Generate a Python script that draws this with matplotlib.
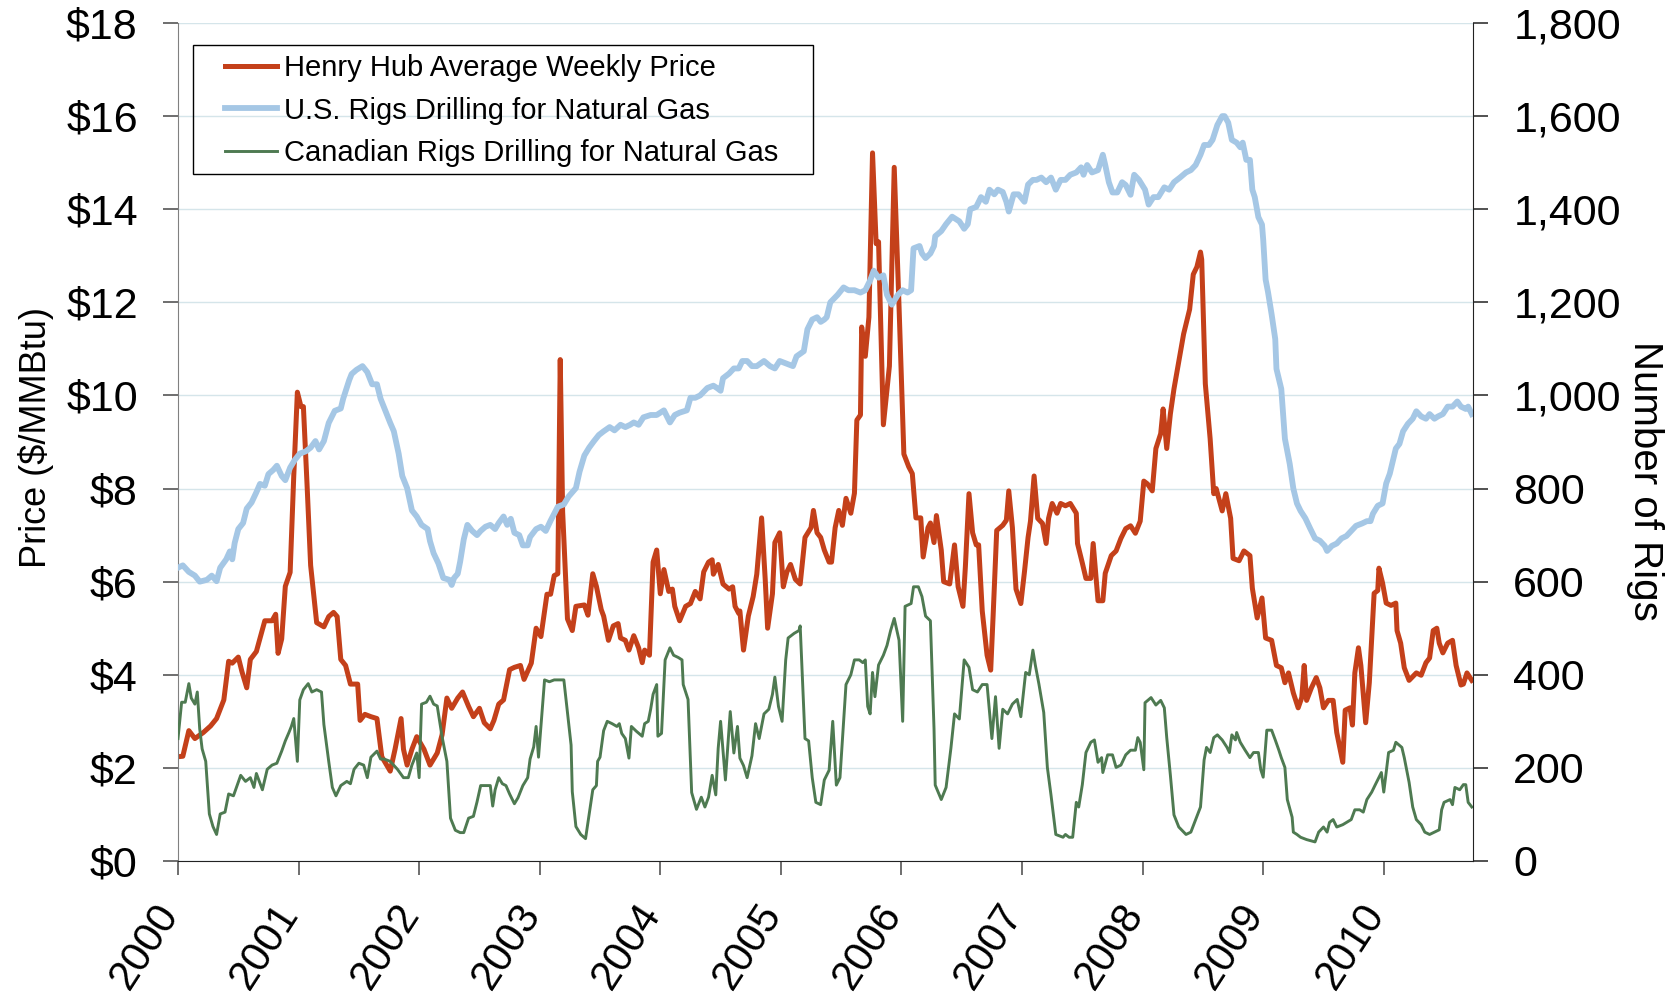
import matplotlib
matplotlib.use("Agg")
import matplotlib.pyplot as plt
from matplotlib.patches import Rectangle
from matplotlib.transforms import ScaledTranslation
from matplotlib.ticker import FuncFormatter

plt.rcParams['font.family'] = ['Liberation Sans', 'DejaVu Sans']

# Henry Hub average weekly price ($/MMBtu), x in decimal years
hh_year = [
    2000.00, 2000.04, 2000.09, 2000.14, 2000.21, 2000.27, 2000.32, 2000.38, 2000.42, 2000.45,
    2000.50, 2000.53, 2000.57, 2000.60, 2000.65, 2000.72, 2000.78, 2000.81, 2000.83, 2000.86,
    2000.89, 2000.93, 2000.96, 2000.99, 2001.02, 2001.04, 2001.07, 2001.10, 2001.15, 2001.21,
    2001.25, 2001.29, 2001.32, 2001.35, 2001.39, 2001.43, 2001.49, 2001.51, 2001.55, 2001.60,
    2001.65, 2001.69, 2001.76, 2001.80, 2001.85, 2001.87, 2001.90, 2001.94, 2001.98, 2002.04,
    2002.09, 2002.15, 2002.19, 2002.23, 2002.27, 2002.32, 2002.36, 2002.41, 2002.45, 2002.50,
    2002.54, 2002.59, 2002.62, 2002.66, 2002.70, 2002.75, 2002.79, 2002.84, 2002.87, 2002.93,
    2002.97, 2003.01, 2003.06, 2003.09, 2003.12, 2003.15, 2003.17, 2003.19, 2003.23, 2003.27,
    2003.30, 2003.37, 2003.40, 2003.44, 2003.47, 2003.51, 2003.53, 2003.57, 2003.61, 2003.65,
    2003.67, 2003.71, 2003.74, 2003.78, 2003.82, 2003.85, 2003.87, 2003.91, 2003.94, 2003.97,
    2004.00, 2004.03, 2004.07, 2004.10, 2004.12, 2004.16, 2004.21, 2004.25, 2004.29, 2004.33,
    2004.36, 2004.40, 2004.43, 2004.44, 2004.48, 2004.52, 2004.57, 2004.60, 2004.62, 2004.65,
    2004.66, 2004.69, 2004.73, 2004.77, 2004.80, 2004.84, 2004.87, 2004.89, 2004.93, 2004.95,
    2004.99, 2005.02, 2005.05, 2005.08, 2005.12, 2005.16, 2005.20, 2005.25, 2005.27, 2005.30,
    2005.33, 2005.36, 2005.40, 2005.42, 2005.45, 2005.48, 2005.51, 2005.54, 2005.58, 2005.61,
    2005.63, 2005.66, 2005.67, 2005.70, 2005.73, 2005.76, 2005.79, 2005.81, 2005.85, 2005.90,
    2005.94, 2005.98, 2006.02, 2006.06, 2006.09, 2006.12, 2006.16, 2006.18, 2006.22, 2006.24,
    2006.27, 2006.29, 2006.33, 2006.35, 2006.40, 2006.44, 2006.47, 2006.51, 2006.53, 2006.56,
    2006.59, 2006.62, 2006.64, 2006.67, 2006.71, 2006.74, 2006.76, 2006.79, 2006.84, 2006.87,
    2006.89, 2006.92, 2006.95, 2006.99, 2007.02, 2007.05, 2007.07, 2007.10, 2007.13, 2007.17,
    2007.20, 2007.22, 2007.25, 2007.29, 2007.32, 2007.36, 2007.40, 2007.45, 2007.46, 2007.50,
    2007.53, 2007.57, 2007.59, 2007.63, 2007.67, 2007.69, 2007.74, 2007.78, 2007.82, 2007.86,
    2007.90, 2007.94, 2007.98, 2008.01, 2008.04, 2008.08, 2008.11, 2008.15, 2008.17, 2008.20,
    2008.23, 2008.26, 2008.30, 2008.34, 2008.37, 2008.39, 2008.42, 2008.45, 2008.48, 2008.49,
    2008.52, 2008.56, 2008.59, 2008.61, 2008.66, 2008.69, 2008.73, 2008.75, 2008.80, 2008.84,
    2008.89, 2008.91, 2008.95, 2008.99, 2009.02, 2009.07, 2009.11, 2009.15, 2009.18, 2009.21,
    2009.25, 2009.29, 2009.32, 2009.34, 2009.36, 2009.40, 2009.44, 2009.47, 2009.50, 2009.54,
    2009.58, 2009.61, 2009.66, 2009.68, 2009.72, 2009.74, 2009.76, 2009.79, 2009.81, 2009.85,
    2009.88, 2009.92, 2009.95, 2009.96, 2009.99, 2010.02, 2010.06, 2010.10, 2010.11, 2010.14,
    2010.17, 2010.21, 2010.27, 2010.31, 2010.35, 2010.38, 2010.41, 2010.44, 2010.46, 2010.49,
    2010.53, 2010.57, 2010.60, 2010.64, 2010.66, 2010.69, 2010.73,
]
hh_price = [
    2.24, 2.25, 2.80, 2.63, 2.76, 2.90, 3.06, 3.46, 4.29, 4.25,
    4.38, 4.07, 3.72, 4.33, 4.50, 5.16, 5.16, 5.30, 4.46, 4.77,
    5.90, 6.20, 8.27, 10.07, 9.76, 9.76, 8.10, 6.35, 5.12, 5.03,
    5.25, 5.34, 5.25, 4.33, 4.20, 3.80, 3.80, 3.02, 3.15, 3.10,
    3.06, 2.24, 1.93, 2.40, 3.06, 2.40, 2.06, 2.40, 2.67, 2.40,
    2.06, 2.32, 2.71, 3.50, 3.28, 3.50, 3.63, 3.32, 3.10, 3.28,
    2.97, 2.84, 3.02, 3.37, 3.46, 4.11, 4.16, 4.20, 3.90, 4.25,
    5.00, 4.82, 5.73, 5.73, 6.13, 6.17, 10.77, 7.50, 5.20, 4.95,
    5.47, 5.50, 5.28, 6.17, 5.90, 5.40, 5.26, 4.74, 5.05, 5.10,
    4.79, 4.74, 4.53, 4.84, 4.58, 4.26, 4.53, 4.42, 6.42, 6.68,
    5.74, 6.26, 5.79, 5.84, 5.47, 5.16, 5.47, 5.53, 5.79, 5.63,
    6.21, 6.42, 6.47, 6.16, 6.37, 5.95, 5.84, 5.89, 5.47, 5.32,
    5.37, 4.53, 5.26, 5.68, 6.16, 7.37, 6.05, 5.00, 5.74, 6.84,
    7.05, 5.89, 6.21, 6.37, 6.05, 5.95, 6.95, 7.16, 7.53, 7.05,
    6.95, 6.68, 6.42, 6.42, 7.16, 7.53, 7.21, 7.79, 7.47, 7.90,
    9.47, 9.58, 11.47, 10.84, 11.68, 15.21, 13.26, 13.30, 9.37, 10.63,
    14.90, 11.90, 8.74, 8.47, 8.32, 7.37, 7.37, 6.53, 7.16, 7.26,
    6.84, 7.42, 6.68, 6.00, 5.95, 6.79, 5.89, 5.47, 6.32, 7.89,
    7.05, 6.79, 6.79, 5.37, 4.42, 4.10, 5.26, 7.10, 7.21, 7.32,
    7.95, 7.16, 5.84, 5.53, 6.21, 6.95, 7.30, 8.27, 7.36, 7.25,
    6.82, 7.36, 7.68, 7.47, 7.68, 7.63, 7.68, 7.47, 6.82, 6.40,
    6.07, 6.07, 6.82, 5.59, 5.59, 6.18, 6.56, 6.66, 6.93, 7.14,
    7.20, 7.04, 7.30, 8.16, 8.10, 7.95, 8.86, 9.18, 9.71, 8.86,
    9.60, 10.14, 10.73, 11.32, 11.64, 11.85, 12.60, 12.76, 13.08, 12.92,
    10.25, 9.07, 7.89, 8.00, 7.52, 7.89, 7.36, 6.50, 6.45, 6.66,
    6.56, 5.86, 5.22, 5.65, 4.79, 4.74, 4.20, 4.15, 3.83, 4.04,
    3.61, 3.29, 3.51, 4.20, 3.45, 3.72, 3.94, 3.72, 3.29, 3.45,
    3.45, 2.76, 2.12, 3.24, 3.29, 2.92, 4.04, 4.58, 4.20, 2.97,
    3.83, 5.75, 5.81, 6.29, 5.97, 5.54, 5.49, 5.54, 4.95, 4.68,
    4.15, 3.88, 4.04, 3.99, 4.26, 4.36, 4.95, 5.00, 4.68, 4.47,
    4.68, 4.74, 4.20, 3.78, 3.80, 4.04, 3.88,
]

# U.S. rigs drilling for natural gas
us_year = [
    2000.00, 2000.04, 2000.09, 2000.14, 2000.18, 2000.24, 2000.28, 2000.32, 2000.35, 2000.40,
    2000.43, 2000.45, 2000.47, 2000.50, 2000.54, 2000.57, 2000.61, 2000.65, 2000.68, 2000.72,
    2000.75, 2000.79, 2000.82, 2000.86, 2000.89, 2000.93, 2000.97, 2001.01, 2001.06, 2001.10,
    2001.14, 2001.17, 2001.21, 2001.25, 2001.30, 2001.35, 2001.37, 2001.42, 2001.44, 2001.48,
    2001.53, 2001.57, 2001.61, 2001.65, 2001.68, 2001.72, 2001.76, 2001.79, 2001.83, 2001.86,
    2001.90, 2001.94, 2001.98, 2002.02, 2002.07, 2002.09, 2002.12, 2002.16, 2002.20, 2002.25,
    2002.27, 2002.29, 2002.32, 2002.34, 2002.37, 2002.40, 2002.44, 2002.48, 2002.51, 2002.55,
    2002.59, 2002.63, 2002.66, 2002.70, 2002.73, 2002.76, 2002.79, 2002.83, 2002.86, 2002.90,
    2002.92, 2002.97, 2003.01, 2003.05, 2003.09, 2003.15, 2003.20, 2003.24, 2003.30, 2003.33,
    2003.37, 2003.41, 2003.45, 2003.49, 2003.53, 2003.58, 2003.62, 2003.67, 2003.71, 2003.75,
    2003.78, 2003.82, 2003.86, 2003.92, 2003.97, 2004.03, 2004.08, 2004.12, 2004.16, 2004.22,
    2004.25, 2004.29, 2004.33, 2004.39, 2004.44, 2004.47, 2004.50, 2004.52, 2004.57, 2004.61,
    2004.65, 2004.68, 2004.72, 2004.76, 2004.80, 2004.86, 2004.91, 2004.95, 2004.99, 2005.05,
    2005.10, 2005.13, 2005.19, 2005.22, 2005.26, 2005.30, 2005.33, 2005.36, 2005.38, 2005.41,
    2005.47, 2005.52, 2005.56, 2005.61, 2005.66, 2005.70, 2005.74, 2005.77, 2005.81, 2005.85,
    2005.88, 2005.92, 2005.97, 2006.01, 2006.05, 2006.08, 2006.10, 2006.15, 2006.17, 2006.20,
    2006.24, 2006.27, 2006.28, 2006.33, 2006.37, 2006.42, 2006.48, 2006.52, 2006.55, 2006.57,
    2006.62, 2006.66, 2006.70, 2006.73, 2006.77, 2006.80, 2006.84, 2006.87, 2006.89, 2006.93,
    2006.97, 2007.02, 2007.05, 2007.09, 2007.12, 2007.16, 2007.20, 2007.24, 2007.28, 2007.32,
    2007.36, 2007.40, 2007.45, 2007.49, 2007.51, 2007.54, 2007.58, 2007.63, 2007.67, 2007.69,
    2007.72, 2007.75, 2007.79, 2007.83, 2007.86, 2007.90, 2007.93, 2007.97, 2008.02, 2008.05,
    2008.09, 2008.13, 2008.18, 2008.22, 2008.26, 2008.31, 2008.36, 2008.40, 2008.44, 2008.48,
    2008.51, 2008.55, 2008.58, 2008.62, 2008.66, 2008.68, 2008.71, 2008.74, 2008.78, 2008.81,
    2008.83, 2008.86, 2008.89, 2008.91, 2008.93, 2008.96, 2008.99, 2009.00, 2009.02, 2009.04,
    2009.07, 2009.10, 2009.11, 2009.15, 2009.18, 2009.22, 2009.25, 2009.28, 2009.31, 2009.35,
    2009.39, 2009.43, 2009.47, 2009.51, 2009.53, 2009.57, 2009.61, 2009.65, 2009.69, 2009.73,
    2009.77, 2009.82, 2009.86, 2009.89, 2009.91, 2009.95, 2009.99, 2010.02, 2010.05, 2010.08,
    2010.10, 2010.13, 2010.16, 2010.20, 2010.24, 2010.27, 2010.31, 2010.35, 2010.38, 2010.42,
    2010.45, 2010.49, 2010.53, 2010.57, 2010.61, 2010.64, 2010.68, 2010.70, 2010.73,
]
us_rigs = [
    630, 635, 621, 613, 600, 604, 613, 601, 630, 648,
    665, 648, 683, 713, 726, 757, 770, 792, 810, 806,
    831, 840, 849, 827, 818, 845, 862, 875, 880, 888,
    902, 884, 902, 941, 967, 972, 993, 1033, 1046, 1055,
    1063, 1050, 1024, 1024, 993, 967, 941, 923, 875, 827,
    801, 753, 740, 722, 713, 687, 661, 639, 608, 604,
    593, 608, 617, 643, 691, 722, 709, 700, 709, 718,
    722, 713, 726, 740, 722, 735, 705, 700, 678, 678,
    696, 713, 718, 709, 731, 761, 766, 783, 801, 836,
    871, 888, 902, 915, 923, 932, 925, 937, 932, 937,
    942, 937, 953, 958, 958, 968, 942, 958, 963, 968,
    995, 995, 1000, 1016, 1021, 1016, 1010, 1037, 1047, 1058,
    1058, 1074, 1074, 1063, 1063, 1074, 1063, 1058, 1074, 1068,
    1063, 1084, 1095, 1142, 1163, 1168, 1158, 1163, 1168, 1200,
    1216, 1232, 1226, 1226, 1221, 1226, 1247, 1268, 1253, 1258,
    1216, 1195, 1216, 1226, 1221, 1226, 1316, 1321, 1305, 1295,
    1305, 1321, 1342, 1353, 1368, 1384, 1374, 1358, 1368, 1400,
    1405, 1426, 1416, 1442, 1432, 1442, 1437, 1416, 1395, 1432,
    1432, 1416, 1453, 1463, 1463, 1468, 1458, 1468, 1442, 1463,
    1463, 1474, 1479, 1490, 1474, 1495, 1479, 1484, 1517, 1495,
    1458, 1436, 1436, 1458, 1452, 1431, 1474, 1463, 1442, 1410,
    1426, 1426, 1447, 1442, 1458, 1468, 1479, 1484, 1495, 1517,
    1538, 1538, 1549, 1581, 1600, 1600, 1586, 1549, 1543, 1533,
    1543, 1506, 1506, 1442, 1426, 1383, 1367, 1335, 1249, 1222,
    1174, 1121, 1057, 1014, 907, 853, 800, 768, 752, 736,
    714, 693, 688, 677, 666, 677, 682, 693, 698, 709,
    720, 725, 730, 730, 746, 763, 768, 811, 832, 864,
    886, 896, 923, 939, 950, 966, 955, 950, 960, 950,
    955, 960, 976, 976, 987, 976, 971, 976, 960,
]

# Canadian rigs drilling for natural gas
ca_year = [
    2000.00, 2000.03, 2000.06, 2000.09, 2000.11, 2000.14, 2000.16, 2000.18, 2000.20, 2000.23,
    2000.26, 2000.29, 2000.32, 2000.35, 2000.39, 2000.42, 2000.46, 2000.52, 2000.56, 2000.60,
    2000.63, 2000.65, 2000.70, 2000.74, 2000.78, 2000.82, 2000.86, 2000.89, 2000.92, 2000.94,
    2000.96, 2000.99, 2001.01, 2001.04, 2001.08, 2001.11, 2001.15, 2001.19, 2001.21, 2001.25,
    2001.28, 2001.31, 2001.35, 2001.40, 2001.43, 2001.46, 2001.50, 2001.54, 2001.57, 2001.60,
    2001.65, 2001.68, 2001.71, 2001.76, 2001.82, 2001.87, 2001.91, 2001.94, 2001.98, 2002.00,
    2002.02, 2002.06, 2002.09, 2002.12, 2002.15, 2002.19, 2002.23, 2002.26, 2002.30, 2002.34,
    2002.37, 2002.41, 2002.45, 2002.48, 2002.51, 2002.55, 2002.59, 2002.61, 2002.63, 2002.66,
    2002.69, 2002.72, 2002.75, 2002.79, 2002.82, 2002.86, 2002.90, 2002.92, 2002.95, 2002.97,
    2002.99, 2003.04, 2003.08, 2003.12, 2003.16, 2003.20, 2003.23, 2003.26, 2003.27, 2003.30,
    2003.34, 2003.38, 2003.41, 2003.44, 2003.47, 2003.48, 2003.50, 2003.53, 2003.56, 2003.60,
    2003.64, 2003.66, 2003.68, 2003.71, 2003.74, 2003.76, 2003.80, 2003.85, 2003.87, 2003.90,
    2003.92, 2003.94, 2003.97, 2003.98, 2004.01, 2004.04, 2004.08, 2004.11, 2004.15, 2004.18,
    2004.19, 2004.23, 2004.26, 2004.30, 2004.34, 2004.37, 2004.40, 2004.43, 2004.46, 2004.48,
    2004.50, 2004.54, 2004.58, 2004.61, 2004.64, 2004.66, 2004.69, 2004.72, 2004.76, 2004.79,
    2004.82, 2004.86, 2004.90, 2004.93, 2004.95, 2004.98, 2005.01, 2005.04, 2005.06, 2005.11,
    2005.15, 2005.16, 2005.20, 2005.23, 2005.26, 2005.29, 2005.33, 2005.36, 2005.40, 2005.43,
    2005.46, 2005.49, 2005.54, 2005.58, 2005.61, 2005.65, 2005.68, 2005.70, 2005.72, 2005.74,
    2005.76, 2005.78, 2005.81, 2005.85, 2005.88, 2005.91, 2005.94, 2005.98, 2006.01, 2006.03,
    2006.08, 2006.10, 2006.14, 2006.17, 2006.20, 2006.24, 2006.27, 2006.28, 2006.33, 2006.37,
    2006.41, 2006.44, 2006.48, 2006.52, 2006.56, 2006.59, 2006.63, 2006.67, 2006.71, 2006.75,
    2006.78, 2006.81, 2006.84, 2006.88, 2006.92, 2006.96, 2006.99, 2007.03, 2007.06, 2007.09,
    2007.11, 2007.14, 2007.18, 2007.21, 2007.24, 2007.28, 2007.34, 2007.36, 2007.39, 2007.42,
    2007.45, 2007.47, 2007.50, 2007.53, 2007.57, 2007.60, 2007.63, 2007.66, 2007.67, 2007.71,
    2007.75, 2007.78, 2007.82, 2007.86, 2007.90, 2007.94, 2007.96, 2007.98, 2008.01, 2008.02,
    2008.07, 2008.11, 2008.15, 2008.18, 2008.20, 2008.23, 2008.26, 2008.30, 2008.36, 2008.40,
    2008.44, 2008.48, 2008.51, 2008.53, 2008.56, 2008.59, 2008.62, 2008.66, 2008.70, 2008.72,
    2008.74, 2008.77, 2008.78, 2008.81, 2008.85, 2008.89, 2008.92, 2008.96, 2008.98, 2009.00,
    2009.03, 2009.07, 2009.10, 2009.13, 2009.15, 2009.18, 2009.20, 2009.24, 2009.25, 2009.28,
    2009.31, 2009.36, 2009.43, 2009.46, 2009.50, 2009.53, 2009.55, 2009.58, 2009.61, 2009.66,
    2009.73, 2009.76, 2009.80, 2009.83, 2009.86, 2009.90, 2009.93, 2009.98, 2010.00, 2010.04,
    2010.08, 2010.10, 2010.15, 2010.17, 2010.21, 2010.24, 2010.27, 2010.31, 2010.34, 2010.38,
    2010.42, 2010.46, 2010.48, 2010.50, 2010.55, 2010.57, 2010.59, 2010.63, 2010.66, 2010.68,
    2010.70, 2010.73,
]
ca_rigs = [
    263, 341, 341, 381, 350, 337, 363, 284, 241, 214,
    101, 74, 57, 101, 105, 144, 140, 184, 171, 179,
    158, 188, 153, 197, 206, 210, 236, 258, 276, 289,
    306, 214, 346, 368, 381, 363, 368, 363, 293, 214,
    158, 140, 162, 171, 166, 197, 210, 206, 179, 223,
    236, 219, 219, 214, 197, 179, 179, 206, 232, 179,
    337, 341, 354, 337, 333, 267, 214, 92, 66, 61,
    61, 92, 96, 127, 162, 162, 162, 118, 153, 179,
    166, 162, 144, 123, 136, 162, 179, 219, 245, 289,
    223, 389, 385, 389, 389, 389, 319, 249, 149, 74,
    57, 48, 101, 153, 162, 214, 223, 280, 300, 295,
    289, 295, 274, 263, 221, 289, 279, 268, 295, 300,
    326, 358, 379, 268, 274, 432, 458, 442, 437, 432,
    379, 347, 147, 111, 137, 116, 137, 184, 142, 242,
    300, 174, 321, 232, 289, 221, 205, 179, 226, 295,
    263, 316, 326, 358, 395, 332, 300, 432, 479, 489,
    495, 505, 263, 258, 179, 126, 121, 174, 195, 300,
    163, 179, 379, 400, 432, 432, 426, 432, 332, 316,
    405, 353, 421, 442, 463, 495, 521, 474, 300, 547,
    553, 589, 589, 568, 526, 516, 284, 163, 132, 158,
    242, 316, 305, 432, 416, 368, 363, 379, 379, 263,
    353, 242, 326, 316, 337, 347, 310, 405, 400, 453,
    421, 380, 319, 201, 142, 57, 51, 57, 51, 51,
    126, 116, 164, 233, 255, 260, 212, 222, 190, 228,
    228, 201, 206, 228, 238, 238, 265, 255, 196, 340,
    351, 335, 345, 329, 265, 185, 99, 73, 57, 62,
    89, 116, 217, 244, 233, 265, 271, 260, 244, 233,
    271, 260, 276, 255, 238, 222, 233, 233, 196, 180,
    281, 281, 260, 238, 222, 201, 132, 94, 62, 57,
    51, 46, 41, 62, 73, 62, 83, 89, 73, 78,
    89, 110, 110, 105, 132, 148, 164, 190, 148, 233,
    238, 255, 244, 222, 169, 116, 89, 78, 62, 57,
    62, 67, 110, 126, 132, 121, 158, 153, 164, 164,
    126, 116,
]

year_ticks = list(range(2000, 2011))
price_ticks = list(range(0, 19, 2))
rig_ticks = list(range(0, 1801, 200))

RED = '#C4401A'
BLUE = '#A5C7E5'
GREEN = '#4E7A51'
GRID = '#D5E5EA'

fig = plt.figure(figsize=(16.81, 9.99), dpi=100)
rect = [178 / 1681, 1 - 861 / 999, (1473 - 178) / 1681, (861 - 23) / 999]

# primary axis: price, drawn underneath
ax_p = fig.add_axes(rect)
ax_p.plot(hh_year, hh_price, color=RED, lw=3.6, solid_joinstyle='round',
          label='Henry Hub Average Weekly Price')
ax_p.set_ylim(0, 18)
ax_p.grid(axis='y', color=GRID, lw=1.0)
ax_p.set_axisbelow(True)

# secondary axis: rig counts, drawn on top
ax_r = ax_p.twinx()
ax_r.plot(us_year, us_rigs, color=BLUE, lw=4.2, solid_joinstyle='round',
          label='U.S. Rigs Drilling for Natural Gas')
ax_r.plot(ca_year, ca_rigs, color=GREEN, lw=2.1,
          label='Canadian Rigs Drilling for Natural Gas')
ax_r.set_ylim(0, 1800)

ax_p.set_yticks(price_ticks)
ax_p.yaxis.set_major_formatter(FuncFormatter(lambda v, p: f'${int(v)}'))
ax_r.set_yticks(rig_ticks)
ax_r.yaxis.set_major_formatter(FuncFormatter(lambda v, p: f'{int(v):,}'))

for a in (ax_p, ax_r):
    a.set_xlim(2000, 2010.74)
    for s in a.spines.values():
        s.set_visible(False)

ax_p.spines['bottom'].set_visible(True)
ax_p.spines['bottom'].set_color('#222222')
ax_p.spines['left'].set_visible(True)
ax_p.spines['left'].set_color('#808080')
ax_r.spines['right'].set_visible(True)
ax_r.spines['right'].set_color('#222222')

ax_p.set_xticks(year_ticks)
ax_p.set_xticklabels([str(y) for y in year_ticks], rotation=57, ha='right',
                     va='center', rotation_mode='anchor')
ax_p.tick_params(axis='x', length=10, width=1.2, color='#555555', labelsize=30, pad=23)
ax_p.tick_params(axis='y', length=11, width=1.2, color='#555555', labelsize=31, pad=18)
ax_r.tick_params(axis='y', length=11, width=1.2, color='#333333', labelsize=31, pad=18)

shift = ScaledTranslation(-0.08, 0, fig.dpi_scale_trans)
for lab in ax_p.get_xticklabels():
    lab.set_transform(lab.get_transform() + shift)

ax_p.set_ylabel('Price ($/MMBtu)', fontsize=26, va='center')
ax_p.yaxis.set_label_coords(-0.11, 0.505)
ax_r.set_ylabel('Number of Rigs', fontsize=29, rotation=270, va='center')
ax_r.yaxis.set_label_coords(1.133, 0.453)

handles = ax_p.get_lines() + ax_r.get_lines()
leg = ax_r.legend(handles=handles, labels=[h.get_label() for h in handles],
                  loc='upper left', bbox_to_anchor=(0.036, 0.963), borderaxespad=0,
                  fontsize=21, handlelength=1.8, handletextpad=0.25, labelspacing=0.5,
                  borderpad=0, frameon=False)
# legend frame box
ax_r.add_patch(Rectangle((0.0116, 0.8198), 0.4788, 0.1539, transform=ax_r.transAxes,
                         fill=False, edgecolor='black', lw=1.0, zorder=4))

fig.savefig('out.png', dpi=100)
